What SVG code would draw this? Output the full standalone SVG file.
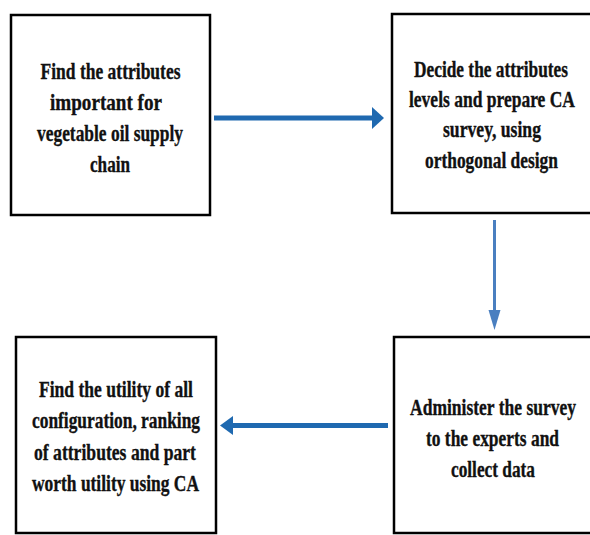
<svg xmlns="http://www.w3.org/2000/svg" width="590" height="535" viewBox="0 0 590 535">
<style>
.box{fill:#fff;stroke:#000;stroke-width:2.5}
.t{font-family:"Liberation Serif","Times New Roman",serif;font-weight:bold;font-size:23px;fill:#111;stroke:#111;stroke-width:0.35;text-anchor:middle}
.a1{stroke:#1f69b0;stroke-width:5;fill:none}
.a2{stroke:#4a7fc0;stroke-width:3;fill:none}
.h1{fill:#1f69b0}
.h2{fill:#4a7fc0}
</style>
<rect width="590" height="535" fill="#fff"/>
<g id="connectors">
<line class="a1" x1="214" y1="118" x2="374" y2="118"/>
<polygon class="h1" points="372,107 384,118 372,129"/>
<line class="a2" x1="494.5" y1="220" x2="494.5" y2="312"/>
<polygon class="h2" points="488.5,310 500.5,310 494.5,330"/>
<line class="a1" x1="388" y1="425.5" x2="230" y2="425.5"/>
<polygon class="h1" points="233,416 220,425.5 233,435"/>
</g>
<g id="n1">
<rect class="box" x="11" y="15" width="199" height="200"/>
<text class="t" x="110.5" y="79" textLength="140" lengthAdjust="spacingAndGlyphs">Find the attributes</text>
<text class="t" x="106" y="110" textLength="112" lengthAdjust="spacingAndGlyphs">important for</text>
<text class="t" x="110" y="141" textLength="146" lengthAdjust="spacingAndGlyphs">vegetable oil supply</text>
<text class="t" x="110" y="172" textLength="40" lengthAdjust="spacingAndGlyphs">chain</text>
</g>
<g id="n2">
<rect class="box" x="392" y="14" width="215" height="199"/>
<text class="t" x="491" y="77" textLength="154" lengthAdjust="spacingAndGlyphs">Decide the attributes</text>
<text class="t" x="492" y="107" textLength="166" lengthAdjust="spacingAndGlyphs">levels and prepare CA</text>
<text class="t" x="492" y="137" textLength="98" lengthAdjust="spacingAndGlyphs">survey, using</text>
<text class="t" x="491.5" y="168" textLength="133" lengthAdjust="spacingAndGlyphs">orthogonal design</text>
</g>
<g id="n3">
<rect class="box" x="394" y="337" width="215" height="196"/>
<text class="t" x="493" y="415" textLength="166" lengthAdjust="spacingAndGlyphs">Administer the survey</text>
<text class="t" x="492.5" y="446" textLength="133" lengthAdjust="spacingAndGlyphs">to the experts and</text>
<text class="t" x="493" y="477" textLength="84" lengthAdjust="spacingAndGlyphs">collect data</text>
</g>
<g id="n4">
<rect class="box" x="16" y="337" width="200" height="196"/>
<text class="t" x="116" y="397" textLength="154" lengthAdjust="spacingAndGlyphs">Find the utility of all</text>
<text class="t" x="116" y="428" textLength="168" lengthAdjust="spacingAndGlyphs">configuration, ranking</text>
<text class="t" x="115" y="460" textLength="162" lengthAdjust="spacingAndGlyphs">of attributes and part</text>
<text class="t" x="115.5" y="491" textLength="167" lengthAdjust="spacingAndGlyphs">worth utility using CA</text>
</g>
</svg>
